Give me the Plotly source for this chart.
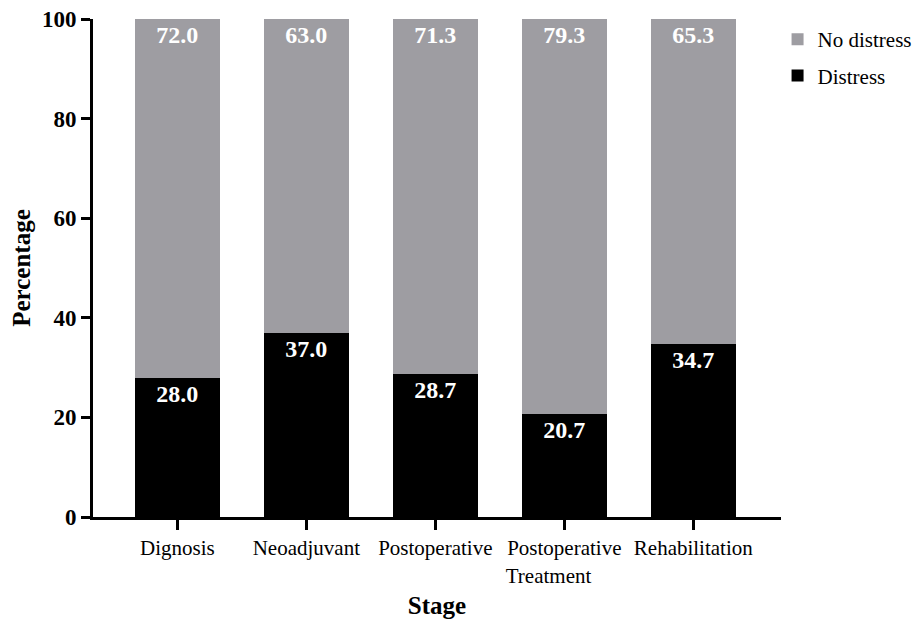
import plotly.graph_objects as go

stages = ["Dignosis", "Neoadjuvant", "Postoperative", "Postoperative<br>Treatment" + "\u00a0" * 6, "Rehabilitation"]
distress = [28.0, 37.0, 28.7, 20.7, 34.7]
no_distress = [72.0, 63.0, 71.3, 79.3, 65.3]
y_ticks = [0, 20, 40, 60, 80, 100]

FONT = "Liberation Serif"

fig = go.Figure()
fig.add_trace(go.Bar(
    x=stages, y=distress, name="Distress", marker_color="#000000",
    marker_line_width=0, legendgroup="d", legendrank=2,
    text=[f"<b>{v:.1f}</b>" for v in distress], textposition="inside", insidetextanchor="end",
    textfont=dict(family=FONT, size=24, color="white"),
    textangle=0,
))
fig.add_trace(go.Bar(
    x=stages, y=no_distress, name="No distress", marker_color="#9e9da2",
    marker_line_width=0, legendgroup="n", legendrank=1,
    text=[f"<b>{v:.1f}</b>" for v in no_distress], textposition="inside", insidetextanchor="end",
    textfont=dict(family=FONT, size=24, color="white"),
    textangle=0,
))

fig.update_layout(
    barmode="stack",
    bargap=0.34,
    width=922, height=621,
    margin=dict(l=85, r=149, t=11, b=112, autoexpand=False),
    plot_bgcolor="white", paper_bgcolor="white",
    font=dict(family=FONT, color="black"),
    uniformtext=dict(minsize=10, mode="show"),
    legend=dict(
        x=0.995, y=1.0, xanchor="left", yanchor="top",
        traceorder="grouped", tracegroupgap=6,
        font=dict(family=FONT, size=21, color="black"),
        bgcolor="rgba(0,0,0,0)",
    ),
    showlegend=True,
)
fig.update_xaxes(
    range=[-0.654, 4.68],
    showline=True, linecolor="black", linewidth=3,
    ticks="outside", ticklen=10, tickwidth=3, tickcolor="black",
    tickfont=dict(family=FONT, size=21, color="black"),
    title=dict(text="<b>Stage</b>", font=dict(family=FONT, size=25, color="black"), standoff=10),
    showgrid=False, zeroline=False,
)
fig.update_yaxes(
    range=[0, 100], tickvals=y_ticks, ticktext=[f"<b>{v}</b>" for v in y_ticks],
    showline=True, linecolor="black", linewidth=3,
    ticks="outside", ticklen=9, tickwidth=3, tickcolor="black",
    tickfont=dict(family=FONT, size=23, color="black"),
    ticklabeloverflow="allow",
    title=dict(text="<b>Percentage</b>", font=dict(family=FONT, size=25, color="black"), standoff=14),
    showgrid=False, zeroline=False,
)

fig.write_html("out.html")
